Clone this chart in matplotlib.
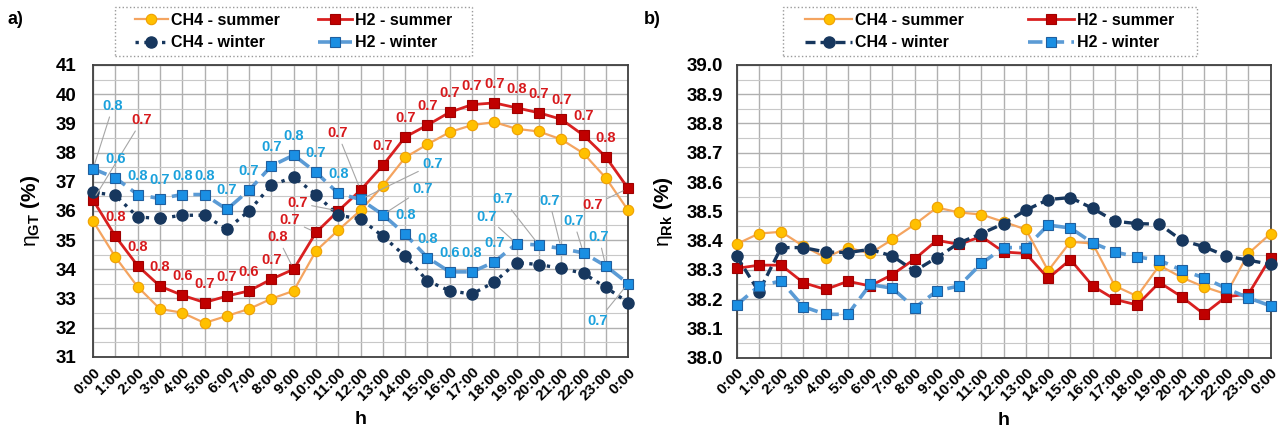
import numpy as np
import matplotlib.pyplot as plt
from matplotlib.ticker import MultipleLocator
from matplotlib.patches import Rectangle

plt.rcParams['font.family'] = ['Liberation Sans', 'DejaVu Sans']
plt.rcParams['font.weight'] = 'bold'
plt.rcParams['mathtext.fontset'] = 'custom'
plt.rcParams['mathtext.rm'] = 'Liberation Sans'
plt.rcParams['mathtext.bf'] = 'Liberation Sans:bold'
plt.rcParams['mathtext.it'] = 'Liberation Sans:italic'
plt.rcParams['mathtext.default'] = 'regular'

# hour categories (day runs from 0:00 to the next 0:00)
hours = ["0:00", "1:00", "2:00", "3:00", "4:00", "5:00", "6:00", "7:00", "8:00",
         "9:00", "10:00", "11:00", "12:00", "13:00", "14:00", "15:00", "16:00",
         "17:00", "18:00", "19:00", "20:00", "21:00", "22:00", "23:00", "0:00"]

# a) gas turbine efficiency eta_GT (%)
ch4_summer_gt = [35.65, 34.42, 33.40, 32.64, 32.51, 32.16, 32.40, 32.64, 32.99, 33.26, 34.63, 35.34, 36.02,
                 36.86, 37.83, 38.28, 38.70, 38.94, 39.04, 38.81, 38.72, 38.45, 37.97, 37.13, 36.02]
h2_summer_gt = [36.37, 35.13, 34.12, 33.42, 33.11, 32.86, 33.08, 33.26, 33.66, 34.00, 35.26, 36.00, 36.71,
                37.56, 38.53, 38.94, 39.38, 39.64, 39.70, 39.53, 39.36, 39.14, 38.59, 37.85, 36.77]
ch4_winter_gt = [36.63, 36.54, 35.79, 35.74, 35.85, 35.85, 35.37, 36.00, 36.88, 37.16, 36.56, 35.85, 35.72,
                 35.13, 34.45, 33.60, 33.26, 33.15, 33.56, 34.23, 34.16, 34.03, 33.86, 33.38, 32.86]
h2_winter_gt = [37.44, 37.13, 36.56, 36.42, 36.56, 36.56, 36.05, 36.71, 37.54, 37.91, 37.32, 36.60, 36.39,
                35.87, 35.20, 34.40, 33.91, 33.91, 34.25, 34.88, 34.83, 34.71, 34.56, 34.11, 33.51]

# difference labels shown next to the H2 points
h2_summer_diff = [0.7, 0.8, 0.8, 0.8, 0.6, 0.7, 0.7, 0.6, 0.7, 0.8, 0.7, 0.7, 0.7,
                  0.7, 0.7, 0.7, 0.7, 0.7, 0.7, 0.8, 0.7, 0.7, 0.7, 0.8, 0.7]
h2_winter_diff = [0.8, 0.6, 0.8, 0.7, 0.8, 0.8, 0.7, 0.7, 0.7, 0.8, 0.7, 0.8, 0.7,
                  0.7, 0.8, 0.8, 0.6, 0.8, 0.7, 0.7, 0.7, 0.7, 0.7, 0.7, 0.7]

# b) eta_Rk (%)
ch4_summer_rk = [38.388, 38.424, 38.430, 38.381, 38.342, 38.376, 38.356, 38.404, 38.455, 38.513, 38.496, 38.489,
                 38.464, 38.438, 38.297, 38.396, 38.390, 38.245, 38.210, 38.315, 38.274, 38.242, 38.217, 38.356, 38.424]
h2_summer_rk = [38.305, 38.316, 38.316, 38.256, 38.233, 38.261, 38.245, 38.284, 38.337, 38.401, 38.387, 38.414,
                38.361, 38.356, 38.271, 38.335, 38.245, 38.199, 38.180, 38.257, 38.208, 38.149, 38.208, 38.217, 38.342]
ch4_winter_rk = [38.347, 38.225, 38.376, 38.376, 38.361, 38.359, 38.370, 38.347, 38.296, 38.342, 38.392, 38.424,
                 38.458, 38.504, 38.540, 38.547, 38.510, 38.466, 38.458, 38.456, 38.401, 38.379, 38.347, 38.333, 38.319]
h2_winter_rk = [38.180, 38.245, 38.262, 38.174, 38.148, 38.148, 38.250, 38.237, 38.170, 38.228, 38.245, 38.322,
                38.376, 38.376, 38.453, 38.443, 38.392, 38.361, 38.344, 38.333, 38.299, 38.273, 38.237, 38.204, 38.177]

# label placement (pixels from the point), leader line drawn when moved away
red_moved = {0: (49, 80), 9: (-16, 32), 10: (-26, 12), 11: (-41, 8), 12: (-23, 57), 24: (-35, -17)}
blue_moved = {0: (20, 63), 12: (72, 35), 13: (40, 26), 19: (-30, 27), 20: (-36, 46),
              21: (-12, 48), 22: (-10, 32), 23: (-7, 29), 24: (-30, -37)}

ORANGE_LINE = '#F4A460'
ORANGE_FACE = '#FFC000'
RED_LINE = '#D92020'
RED_FACE = '#C00000'
NAVY = '#17375E'
BLUE_LINE = '#5B9BD5'
BLUE_FACE = '#1A8FE3'
RED_TXT = '#D7191C'
BLUE_TXT = '#1BA1DC'

W, H = 1280, 433


def series_styles(winter_ch4_ls):
    return [
        dict(color=ORANGE_LINE, lw=1.6, marker='o', ms=7.5, mfc=ORANGE_FACE, mec='#F0A000', mew=0.8,
             label='CH4 - summer'),
        dict(color=RED_LINE, lw=2.0, marker='s', ms=7, mfc=RED_FACE, mec='#A00000', mew=0.8,
             label='H2 - summer'),
        dict(color=NAVY, lw=2.4, ls=winter_ch4_ls, marker='o', ms=8, mfc=NAVY, mec=NAVY,
             label='CH4 - winter'),
        dict(color=BLUE_LINE, lw=2.6, ls=(0, (4, 2)), marker='s', ms=7, mfc=BLUE_FACE, mec='#1F5F9F', mew=0.8,
             label='H2 - winter'),
    ]


def style_axes(ax, ymin, ymax, major, minor):
    x = np.arange(len(hours))
    ax.set_xlim(0, len(hours) - 1)
    ax.set_ylim(ymin, ymax)
    ax.set_xticks(x)
    ax.set_xticklabels(hours, rotation=45, ha='right', rotation_mode='anchor', fontsize=11)
    ax.yaxis.set_major_locator(MultipleLocator(major))
    ax.yaxis.set_minor_locator(MultipleLocator(minor))
    ax.grid(which='major', color='#B0B0B0', lw=1.0)
    ax.grid(which='minor', axis='y', color='#C8C8C8', lw=0.8)
    ax.set_axisbelow(True)
    ax.tick_params(which='both', length=0)
    ax.tick_params(axis='y', labelsize=13.5, pad=12)
    ax.tick_params(axis='x', pad=6)
    for s in ax.spines.values():
        s.set_color('#404040')
        s.set_linewidth(1.3)
    ax.set_xlabel('h', fontsize=14, fontweight='bold', labelpad=6)


def add_labels(ax, y, diffs, moved, color):
    for i, (yi, d) in enumerate(zip(y, diffs)):
        off = moved.get(i, (0, 19))
        arrow = None
        if i in moved:
            arrow = dict(arrowstyle='-', color='#A6A6A6', lw=0.8, shrinkA=1, shrinkB=4)
        ax.annotate(f"{d:.1f}", xy=(i, yi), xytext=off, textcoords='offset pixels',
                    ha='center', va='center', fontsize=10.5, color=color, arrowprops=arrow,
                    zorder=5)


def add_legend(ax, fig, box, handlelength, colspacing):
    # box = (left, top, right, bottom) in pixels from top-left
    x0, y0, x1, y1 = box
    h = [ax.lines[i] for i in (0, 2, 1, 3)]
    ax.legend(handles=h, loc='center', bbox_to_anchor=((x0 + x1) / 2 / W, 1 - (y0 + y1) / 2 / H),
              bbox_transform=fig.transFigure, ncol=2, fontsize=11.5, frameon=False,
              handlelength=handlelength, columnspacing=colspacing, handletextpad=0.2,
              labelspacing=0.45, borderpad=0, borderaxespad=0)
    fig.patches.append(Rectangle((x0 / W, 1 - y1 / H), (x1 - x0) / W, (y1 - y0) / H,
                                 transform=fig.transFigure, fill=False, edgecolor='#9A9A9A',
                                 linestyle=':', lw=1.0))


def main():
    fig = plt.figure(figsize=(12.8, 4.33), dpi=100)
    ax1 = fig.add_axes([0.0727, 0.176, 0.4180, 0.674])
    ax2 = fig.add_axes([0.5755, 0.174, 0.4172, 0.676])
    x = np.arange(len(hours))

    # a)
    for y, st in zip([ch4_summer_gt, h2_summer_gt, ch4_winter_gt, h2_winter_gt], series_styles(':')):
        ax1.plot(x, y, clip_on=False, zorder=3, **st)
    add_labels(ax1, h2_summer_gt, h2_summer_diff, red_moved, RED_TXT)
    add_labels(ax1, h2_winter_gt, h2_winter_diff, blue_moved, BLUE_TXT)
    style_axes(ax1, 31, 41, 1, 0.5)
    ax1.set_ylabel(r'$\eta_{\mathbf{GT}}\ \mathbf{(\%)}$', fontsize=15, labelpad=10)
    add_legend(ax1, fig, (115, 7, 472, 56), 2.1, 2.4)

    # b)
    for y, st in zip([ch4_summer_rk, h2_summer_rk, ch4_winter_rk, h2_winter_rk], series_styles((0, (3, 1.5)))):
        ax2.plot(x, y, clip_on=False, zorder=3, **st)
    style_axes(ax2, 38.0, 39.0, 0.1, 0.05)
    ax2.yaxis.set_major_formatter(plt.FormatStrFormatter('%.1f'))
    ax2.tick_params(axis='y', pad=10)
    ax2.set_ylabel(r'$\eta_{\mathbf{Rk}}\ \mathbf{(\%)}$', fontsize=15, labelpad=8)
    add_legend(ax2, fig, (783, 7, 1197, 56), 2.9, 4.0)

    fig.text(0.006, 0.945, 'a)', fontsize=13)
    fig.text(0.503, 0.945, 'b)', fontsize=13)

    fig.savefig('out.png', dpi=100)


if __name__ == "__main__":
    main()
